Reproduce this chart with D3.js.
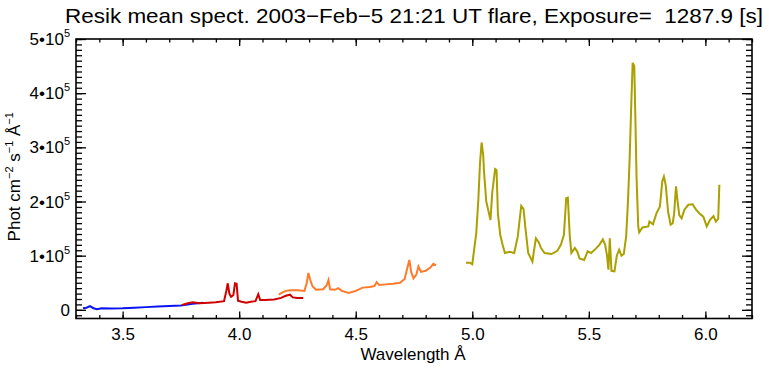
<!DOCTYPE html>
<html>
<head>
<meta charset="utf-8">
<script src="https://cdn.jsdelivr.net/npm/d3@7"></script>
<style>
  body { margin: 0; background: #fff; }
  svg { display: block; font-family: "Liberation Sans", Arial, sans-serif; }
</style>
</head>
<body>
<svg width="769" height="369"></svg>
<script>
const title = "Resik mean spect. 2003\u2212Feb\u22125 21:21 UT flare, Exposure=  1287.9 [s]";
const xTitle = "Wavelength \u00c5";

// x ticks (wavelength, Angstrom)
const xMajor = [3.5, 4.0, 4.5, 5.0, 5.5, 6.0];
const xLabels = ["3.5", "4.0", "4.5", "5.0", "5.5", "6.0"];
// y ticks (photon flux)
const yMajor = [0, 1e5, 2e5, 3e5, 4e5, 5e5];
const yMantissa = ["0", "1", "2", "3", "4", "5"];

// channel 1 (blue)
const ch1Wave = [3.33, 3.345, 3.36, 3.375, 3.39, 3.41, 3.45, 3.5, 3.55, 3.6, 3.65, 3.7, 3.75, 3.8, 3.845];
const ch1Flux = [3e3, 4e3, 7e3, 3e3, 1e3, 3e3, 2.5e3, 3e3, 4e3, 5e3, 6e3, 7e3, 8e3, 1.1e4, 1.3e4];

// channel 2 (red)
const ch2Wave = [3.755, 3.78, 3.80, 3.83, 3.87, 3.90, 3.935, 3.945, 3.951, 3.958, 3.965, 3.975, 3.982, 3.989, 3.995,
  4.01, 4.03, 4.05, 4.07, 4.082, 4.09, 4.11, 4.15, 4.18, 4.20, 4.218, 4.23, 4.25, 4.275];
const ch2Flux = [9e3, 1.2e4, 1.4e4, 1.2e4, 1.3e4, 1.4e4, 1.6e4, 3.5e4, 4.9e4, 3e4, 2.4e4, 2.7e4, 4.9e4, 4.8e4, 1.7e4,
  1.5e4, 1.3e4, 1.5e4, 1.6e4, 2.9e4, 1.8e4, 1.8e4, 1.9e4, 2.2e4, 2.6e4, 2.8e4, 2.3e4, 2.2e4, 2.2e4];

// channel 3 (orange)
const ch3Wave = [4.17, 4.18, 4.20, 4.22, 4.25, 4.28, 4.29, 4.297, 4.305, 4.315, 4.33, 4.36, 4.375, 4.383, 4.39,
  4.41, 4.425, 4.44, 4.47, 4.50, 4.53, 4.56, 4.58, 4.59, 4.60, 4.63, 4.66, 4.69, 4.71, 4.72, 4.73, 4.738,
  4.748, 4.76, 4.769, 4.78, 4.80, 4.82, 4.833, 4.844];
const ch3Flux = [2.8e4, 3.1e4, 3.5e4, 3.6e4, 3.6e4, 3.5e4, 5e4, 6.8e4, 5.5e4, 4.3e4, 3.7e4, 3.8e4, 4.5e4, 5.5e4, 3.8e4,
  3.7e4, 4e4, 3.5e4, 3.1e4, 3.5e4, 4.1e4, 4.2e4, 4.4e4, 5.1e4, 4.6e4, 4.7e4, 4.8e4, 5e4, 5.7e4, 7.5e4, 9.2e4, 7e4,
  5.8e4, 6.5e4, 8e4, 7e4, 7.2e4, 7.8e4, 8.5e4, 8.2e4];

// channel 4 (olive)
const ch4Wave = [4.973, 4.99, 5.0, 5.007, 5.017, 5.026, 5.033, 5.04, 5.047, 5.05, 5.06, 5.068, 5.078, 5.086, 5.098,
  5.104, 5.11, 5.12, 5.13, 5.14, 5.16, 5.18, 5.195, 5.21, 5.22, 5.228, 5.24, 5.258, 5.265, 5.273, 5.285, 5.295,
  5.31, 5.34, 5.365, 5.38, 5.393, 5.403, 5.41, 5.418, 5.425, 5.44, 5.45, 5.46, 5.48, 5.495, 5.51, 5.53, 5.545,
  5.56, 5.57, 5.578, 5.584, 5.59, 5.597, 5.61, 5.62, 5.63, 5.64, 5.65, 5.66, 5.667, 5.675, 5.682, 5.688, 5.695,
  5.70, 5.705, 5.712, 5.716, 5.73, 5.755, 5.76, 5.775, 5.79, 5.805, 5.815, 5.822, 5.83, 5.84, 5.851, 5.86, 5.866,
  5.874, 5.88, 5.888, 5.898, 5.91, 5.927, 5.945, 5.96, 5.975, 5.991, 6.006, 6.02, 6.035, 6.045, 6.055, 6.06];
const ch4Flux = [8.7e4, 8.7e4, 8.4e4, 1.08e5, 1.41e5, 2.03e5, 2.7e5, 3.09e5, 2.85e5, 2.58e5, 2.0e5, 1.85e5, 1.66e5, 2.18e5, 2.6e5,
  2.58e5, 1.78e5, 1.38e5, 1.2e5, 1.05e5, 1.07e5, 1.05e5, 1.35e5, 1.92e5, 1.86e5, 1.51e5, 1.05e5, 8.9e4, 1.1e5, 1.32e5, 1.25e5, 1.14e5,
  1.05e5, 1.03e5, 1.09e5, 1.2e5, 1.38e5, 2.06e5, 2.07e5, 1.38e5, 1.05e5, 1.14e5, 1.08e5, 9.5e4, 9.2e4, 1.08e5, 1.05e5, 1.13e5, 1.2e5,
  1.3e5, 1.2e5, 1.0e5, 7.4e4, 1.32e5, 7.2e4, 7.1e4, 1.0e5, 1.11e5, 1.0e5, 1.03e5, 1.35e5, 1.91e5, 2.77e5, 3.78e5, 4.56e5, 4.5e5,
  3.47e5, 2.4e5, 1.54e5, 1.43e5, 1.52e5, 1.54e5, 1.63e5, 1.58e5, 1.78e5, 1.91e5, 2.37e5, 2.46e5, 2.3e5, 1.81e5, 1.57e5, 1.6e5, 1.78e5,
  2.28e5, 2.03e5, 1.75e5, 1.69e5, 1.85e5, 1.94e5, 1.95e5, 1.85e5, 1.78e5, 1.72e5, 1.54e5, 1.66e5, 1.73e5, 1.63e5, 1.68e5, 2.31e5];

const channels = [
  { wave: ch1Wave, flux: ch1Flux, color: "#0a14f0" },
  { wave: ch2Wave, flux: ch2Flux, color: "#d00000" },
  { wave: ch3Wave, flux: ch3Flux, color: "#ff7a2a" },
  { wave: ch4Wave, flux: ch4Flux, color: "#aaa000" }
];

const svg = d3.select("svg");
const plotL = 76, plotR = 752, plotT = 39, plotB = 318.5;

const x = d3.scaleLinear([3.3, 6.2], [plotL, plotR]);
const y = d3.scaleLinear([-16000, 5e5], [plotB, plotT]);

// spectra
const line = d3.line().x(d => x(d[0])).y(d => y(d[1]));
channels.forEach(c => {
  svg.append("path")
    .datum(c.wave.map((w, i) => [w, c.flux[i]]))
    .attr("d", line)
    .attr("fill", "none")
    .attr("stroke", c.color)
    .attr("stroke-width", 2)
    .attr("stroke-linejoin", "miter");
});

// axes, ticks pointing inwards like IDL
const xMinor = d3.range(33, 63).map(v => v / 10);
const yMinor = d3.range(-1, 51).map(v => v * 1e4);

function styleAxis(g) {
  g.select(".domain").remove();
  g.selectAll(".tick line").attr("stroke", "#000").attr("stroke-width", 1.3);
}

svg.append("g").attr("transform", `translate(0,${plotB})`)
  .call(d3.axisBottom(x).tickValues(xMinor).tickSize(-3.5).tickFormat(""))
  .call(styleAxis);
svg.append("g").attr("transform", `translate(0,${plotB})`)
  .call(d3.axisBottom(x).tickValues(xMajor).tickSize(-7).tickPadding(9).tickFormat((d, i) => xLabels[i]))
  .call(styleAxis)
  .selectAll("text").attr("font-size", 17).attr("fill", "#000");
svg.append("g").attr("transform", `translate(0,${plotT})`)
  .call(d3.axisTop(x).tickValues(xMinor).tickSize(-3.5).tickFormat(""))
  .call(styleAxis);
svg.append("g").attr("transform", `translate(0,${plotT})`)
  .call(d3.axisTop(x).tickValues(xMajor).tickSize(-7).tickFormat(""))
  .call(styleAxis);

svg.append("g").attr("transform", `translate(${plotL},0)`)
  .call(d3.axisLeft(y).tickValues(yMinor).tickSize(-6).tickFormat(""))
  .call(styleAxis);
svg.append("g").attr("transform", `translate(${plotL},0)`)
  .call(d3.axisLeft(y).tickValues(yMajor).tickSize(-10).tickFormat(""))
  .call(styleAxis);
svg.append("g").attr("transform", `translate(${plotR},0)`)
  .call(d3.axisRight(y).tickValues(yMinor).tickSize(-6).tickFormat(""))
  .call(styleAxis);
svg.append("g").attr("transform", `translate(${plotR},0)`)
  .call(d3.axisRight(y).tickValues(yMajor).tickSize(-10).tickFormat(""))
  .call(styleAxis);

// y labels: "n•10^5"
yMajor.forEach((v, i) => {
  const t = svg.append("text")
    .attr("x", plotL - 6)
    .attr("y", y(v) + 6)
    .attr("text-anchor", "end")
    .attr("font-size", 17)
    .attr("fill", "#000");
  if (v === 0) {
    t.text(yMantissa[i]);
  } else {
    t.append("tspan").text(yMantissa[i] + "\u202210");
    t.append("tspan").attr("dy", -8).attr("font-size", 11).text("5");
  }
});

// frame
svg.append("rect")
  .attr("x", plotL).attr("y", plotT)
  .attr("width", plotR - plotL).attr("height", plotB - plotT)
  .attr("fill", "none").attr("stroke", "#000").attr("stroke-width", 1.6);

// title
svg.append("text")
  .attr("x", 65).attr("y", 23)
  .attr("font-size", 21)
  .attr("textLength", 698)
  .attr("lengthAdjust", "spacingAndGlyphs")
  .style("white-space", "pre")
  .text(title);

// x title
svg.append("text")
  .attr("x", (plotL + plotR) / 2 - 1).attr("y", 360)
  .attr("text-anchor", "middle")
  .attr("font-size", 17)
  .text(xTitle);

// y title
const yt = svg.append("text")
  .attr("transform", `translate(20,${(plotT + plotB) / 2 - 2}) rotate(-90)`)
  .attr("text-anchor", "middle")
  .attr("font-size", 17);
yt.append("tspan").text("Phot cm");
yt.append("tspan").attr("dy", -7).attr("font-size", 11).text("\u22122");
yt.append("tspan").attr("dy", 7).text(" s");
yt.append("tspan").attr("dy", -7).attr("font-size", 11).text("\u22121");
yt.append("tspan").attr("dy", 7).text(" \u00c5");
yt.append("tspan").attr("dy", -7).attr("font-size", 11).text("\u22121");
</script>
</body>
</html>
